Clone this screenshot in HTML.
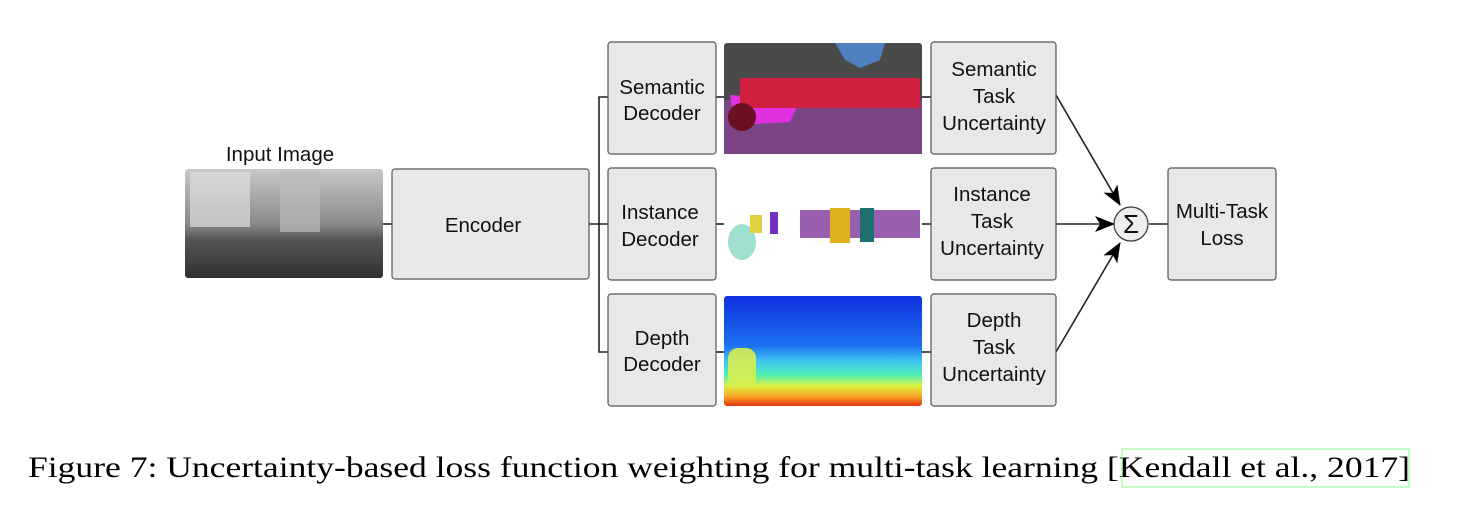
<!DOCTYPE html>
<html><head><style>
html,body{margin:0;padding:0;background:#fff;width:1464px;height:514px;overflow:hidden}
svg{display:block}
</style></head><body>
<svg width="1464" height="514" viewBox="0 0 1464 514" xmlns="http://www.w3.org/2000/svg">
<defs>
<linearGradient id="dep" x1="0" y1="0" x2="0" y2="1">
<stop offset="0" stop-color="#1030e0"/><stop offset="0.45" stop-color="#1e70f0"/>
<stop offset="0.6" stop-color="#40c8f0"/><stop offset="0.72" stop-color="#50f0b0"/>
<stop offset="0.82" stop-color="#e0f040"/><stop offset="0.92" stop-color="#f8a020"/>
<stop offset="1" stop-color="#e03010"/></linearGradient>
<linearGradient id="inp" x1="0" y1="0" x2="0" y2="1">
<stop offset="0" stop-color="#c8c8c8"/><stop offset="0.5" stop-color="#8a8a8a"/>
<stop offset="0.65" stop-color="#555"/><stop offset="1" stop-color="#2e302e"/></linearGradient>
<marker id="ar" markerWidth="20" markerHeight="16" refX="19" refY="8" orient="auto" markerUnits="userSpaceOnUse">
<path d="M0,0 L20,8 L0,16 L5,8 z" fill="#000"/></marker>
</defs>
<g font-family="Liberation Sans, sans-serif" font-size="20.5" fill="#111" text-anchor="middle">
<g stroke="#222" stroke-width="1.6" fill="none">
<line x1="383" y1="224" x2="392" y2="224"/>
<line x1="589" y1="224" x2="608" y2="224"/>
<polyline points="608,97 599,97 599,352 608,352"/>
<line x1="716" y1="97" x2="724" y2="97"/><line x1="716" y1="224" x2="724" y2="224"/><line x1="716" y1="352" x2="724" y2="352"/>
<line x1="922" y1="97" x2="931" y2="97"/><line x1="922" y1="224" x2="931" y2="224"/><line x1="922" y1="352" x2="931" y2="352"/>
<line x1="1056" y1="95" x2="1120" y2="205" marker-end="url(#ar)"/>
<line x1="1056" y1="224" x2="1114" y2="224" marker-end="url(#ar)"/>
<line x1="1056" y1="352" x2="1120" y2="243" marker-end="url(#ar)"/>
<line x1="1149" y1="224" x2="1168" y2="224"/>
</g>
<rect x="185" y="169" width="198" height="109" rx="3" fill="url(#inp)"/>
<rect x="190" y="172" width="60" height="55" fill="#ddd" opacity="0.7"/>
<rect x="280" y="172" width="40" height="60" fill="#bbb" opacity="0.7"/>
<text x="280" y="161">Input Image</text>
<g fill="#e8e8e8" stroke="#555" stroke-width="1.2">
<rect x="392" y="169" width="197" height="110" rx="3"/>
<rect x="608" y="42" width="108" height="112" rx="3"/>
<rect x="608" y="168" width="108" height="112" rx="3"/>
<rect x="608" y="294" width="108" height="112" rx="3"/>
<rect x="931" y="42" width="125" height="112" rx="3"/>
<rect x="931" y="168" width="125" height="112" rx="3"/>
<rect x="931" y="294" width="125" height="112" rx="3"/>
<rect x="1168" y="168" width="108" height="112" rx="3"/>
</g>
<text x="483" y="232">Encoder</text>
<text x="662" y="94">Semantic</text><text x="662" y="120">Decoder</text>
<text x="660" y="219">Instance</text><text x="660" y="246">Decoder</text>
<text x="662" y="345">Depth</text><text x="662" y="371">Decoder</text>
<text x="994" y="76">Semantic</text><text x="994" y="103">Task</text><text x="994" y="130">Uncertainty</text>
<text x="992" y="201">Instance</text><text x="992" y="228">Task</text><text x="992" y="255">Uncertainty</text>
<text x="994" y="327">Depth</text><text x="994" y="354">Task</text><text x="994" y="381">Uncertainty</text>
<text x="1222" y="218">Multi-Task</text><text x="1222" y="245">Loss</text>
<rect x="724" y="43" width="198" height="111" rx="3" fill="#4a4a4a"/>
<path d="M835,43 L885,43 L880,60 L860,68 L845,60 Z" fill="#5080c0"/>
<rect x="724" y="100" width="198" height="54" fill="#7b4585"/>
<path d="M730,95 L800,100 L790,122 L735,125 Z" fill="#e030e0"/>
<rect x="740" y="78" width="180" height="30" fill="#d02040"/>
<circle cx="742" cy="117" r="14" fill="#6a1020"/>
<rect x="800" y="210" width="120" height="28" fill="#9a60b0"/>
<rect x="830" y="208" width="20" height="35" fill="#e0b020"/>
<rect x="860" y="208" width="14" height="34" fill="#207070"/>
<rect x="770" y="212" width="8" height="22" fill="#7030c0"/>
<ellipse cx="742" cy="242" rx="14" ry="18" fill="#a0e0d0"/>
<rect x="750" y="215" width="12" height="18" fill="#e0d040"/>
<rect x="724" y="296" width="198" height="110" rx="3" fill="url(#dep)"/>
<rect x="728" y="348" width="28" height="40" rx="10" fill="#d8ee50" opacity="0.9"/>
<circle cx="1131" cy="224" r="17" fill="#eee" stroke="#333" stroke-width="1.2"/>
<text x="1131" y="233" font-size="26">Σ</text>
</g>
<text x="28" y="477" font-family="Liberation Serif, serif" font-size="30" fill="#000" textLength="1382" lengthAdjust="spacingAndGlyphs">Figure 7: Uncertainty-based loss function weighting for multi-task learning [Kendall et al., 2017]</text>
<rect x="1122" y="449" width="287" height="38" fill="none" stroke="#8f8" stroke-width="1"/>
</svg>
</body></html>
